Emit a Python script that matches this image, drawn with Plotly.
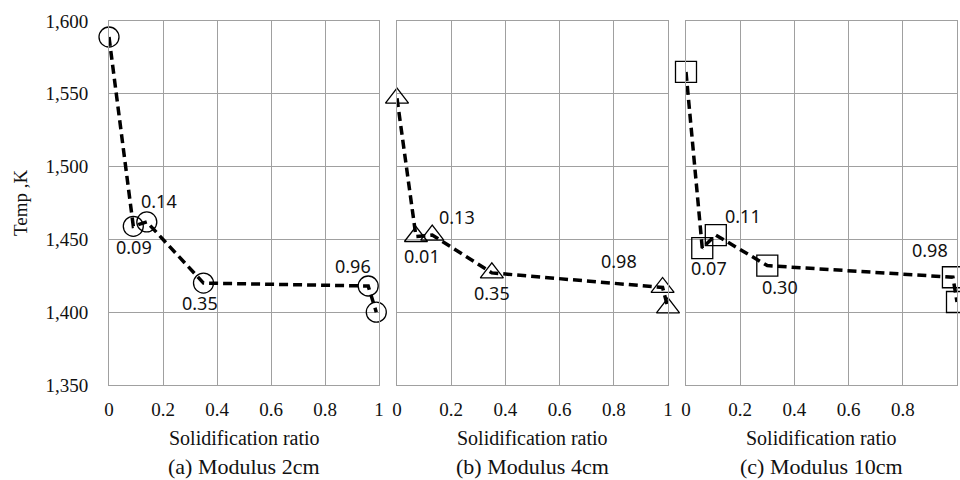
import plotly.graph_objects as go

# ---- data ----
a_x = [0, 0.09, 0.14, 0.35, 0.96, 0.99]
a_y = [1589, 1459, 1462, 1420, 1418, 1400]
b_x = [0, 0.07, 0.13, 0.35, 0.98, 1.0]
b_y = [1547, 1452, 1453, 1427, 1417, 1403]
c_x = [0, 0.06, 0.11, 0.30, 0.985, 1.0]
c_y = [1565, 1444, 1453, 1432, 1424, 1407]

a_labels = ["", "0.09", "0.14", "0.35", "0.96", ""]
b_labels = ["", "0.01", "0.13", "0.35", "0.98", ""]
c_labels = ["", "0.07", "0.11", "0.30", "0.98", ""]

panel_titles = ["(a) Modulus 2cm", "(b) Modulus 4cm", "(c) Modulus 10cm"]
x_title = "Solidification ratio"
y_title = "Temp ,K"
y_ticks = [1350, 1400, 1450, 1500, 1550, 1600]
x_ticks = [0, 0.2, 0.4, 0.6, 0.8, 1]

# ---- layout helpers ----
W, H = 960, 480
domains = [(109, 379), (397, 668), (686, 957)]
y_top, y_bot = 21, 385
symbols = ["circle-open", "triangle-up-open", "square-open"]
msizes = [20, 20, 21]
# label offsets (xshift, yshift) in px
offsets = [
    [None, (1, -21), (12, 21), (-4, -20), (-15, 20), None],
    [None, (6, -20), (25, 18), (0, -20), (-44, 26), None],
    [None, (7, -20), (27, 19), (13, -21), (-23, 27), None],
]

serif = "Liberation Serif, Times New Roman, serif"
sans = "Noto Sans, Open Sans, sans-serif"

fig = go.Figure()
series = [(a_x, a_y, a_labels), (b_x, b_y, b_labels), (c_x, c_y, c_labels)]
annotations = []
for i, (xs, ys, labs) in enumerate(series):
    ax = "" if i == 0 else str(i + 1)
    fig.add_trace(go.Scatter(
        x=xs, y=ys, mode="lines+markers",
        xaxis="x" + ax, yaxis="y" + ax,
        line=dict(color="black", width=3.5, dash="9px,5px"),
        marker=dict(symbol=symbols[i], size=msizes[i], color="black",
                    line=dict(color="black", width=1.3)),
        cliponaxis=False, showlegend=False, hoverinfo="skip",
    ))
    for j, lab in enumerate(labs):
        if lab:
            dx, dy = offsets[i][j]
            annotations.append(dict(
                x=xs[j], y=ys[j], xref="x" + ax, yref="y" + ax,
                text=lab, showarrow=False, xshift=dx, yshift=dy,
                font=dict(family=sans, size=18, color="#111"),
            ))
    l, r = domains[i]
    cx = (l + r) / 2 / W
    annotations.append(dict(x=cx, y=1 - 438 / H, xref="paper", yref="paper",
                            xanchor="center", yanchor="middle",
                            text=x_title, showarrow=False,
                            font=dict(family=serif, size=20, color="#111")))
    annotations.append(dict(x=cx, y=1 - 466 / H, xref="paper", yref="paper",
                            xanchor="center", yanchor="middle",
                            text=panel_titles[i], showarrow=False,
                            font=dict(family=serif, size=22, color="#111")))

annotations.append(dict(x=21 / W, y=1 - 203 / H, xref="paper", yref="paper",
                        xanchor="center", yanchor="middle",
                        text=y_title, showarrow=False, textangle=-90,
                        font=dict(family=serif, size=19, color="#111")))

grid = "#a0a0a0"
layout = dict(
    width=W, height=H, margin=dict(l=0, r=0, t=0, b=0, autoexpand=False),
    paper_bgcolor="white", plot_bgcolor="white",
    annotations=annotations,
)
for i, (l, r) in enumerate(domains):
    ax = "" if i == 0 else str(i + 1)
    layout["xaxis" + ax] = dict(
        domain=[l / W, r / W], range=[0, 1], anchor="y" + ax,
        tickvals=x_ticks, ticktext=[("%g" % v) for v in x_ticks],
        showgrid=True, gridcolor=grid, gridwidth=1,
        showline=True, linecolor=grid, linewidth=1, mirror=True,
        zeroline=False, ticks="", ticklabelstandoff=7, automargin=False,
        tickfont=dict(family=serif, size=19, color="#111"),
    )
    layout["yaxis" + ax] = dict(
        domain=[1 - y_bot / H, 1 - y_top / H], range=[1350, 1600],
        anchor="x" + ax, tickvals=y_ticks,
        ticktext=["{:,}".format(v) for v in y_ticks],
        showticklabels=(i == 0),
        showgrid=True, gridcolor=grid, gridwidth=1,
        showline=True, linecolor=grid, linewidth=1, mirror=True,
        zeroline=False, ticks="", ticklabelstandoff=16, automargin=False,
        tickfont=dict(family=serif, size=19, color="#111"),
    )
fig.update_layout(**layout)
fig.write_html("out.html", config={"displayModeBar": False},
               post_script="document.body.style.margin='0';document.body.style.overflow='hidden';")
